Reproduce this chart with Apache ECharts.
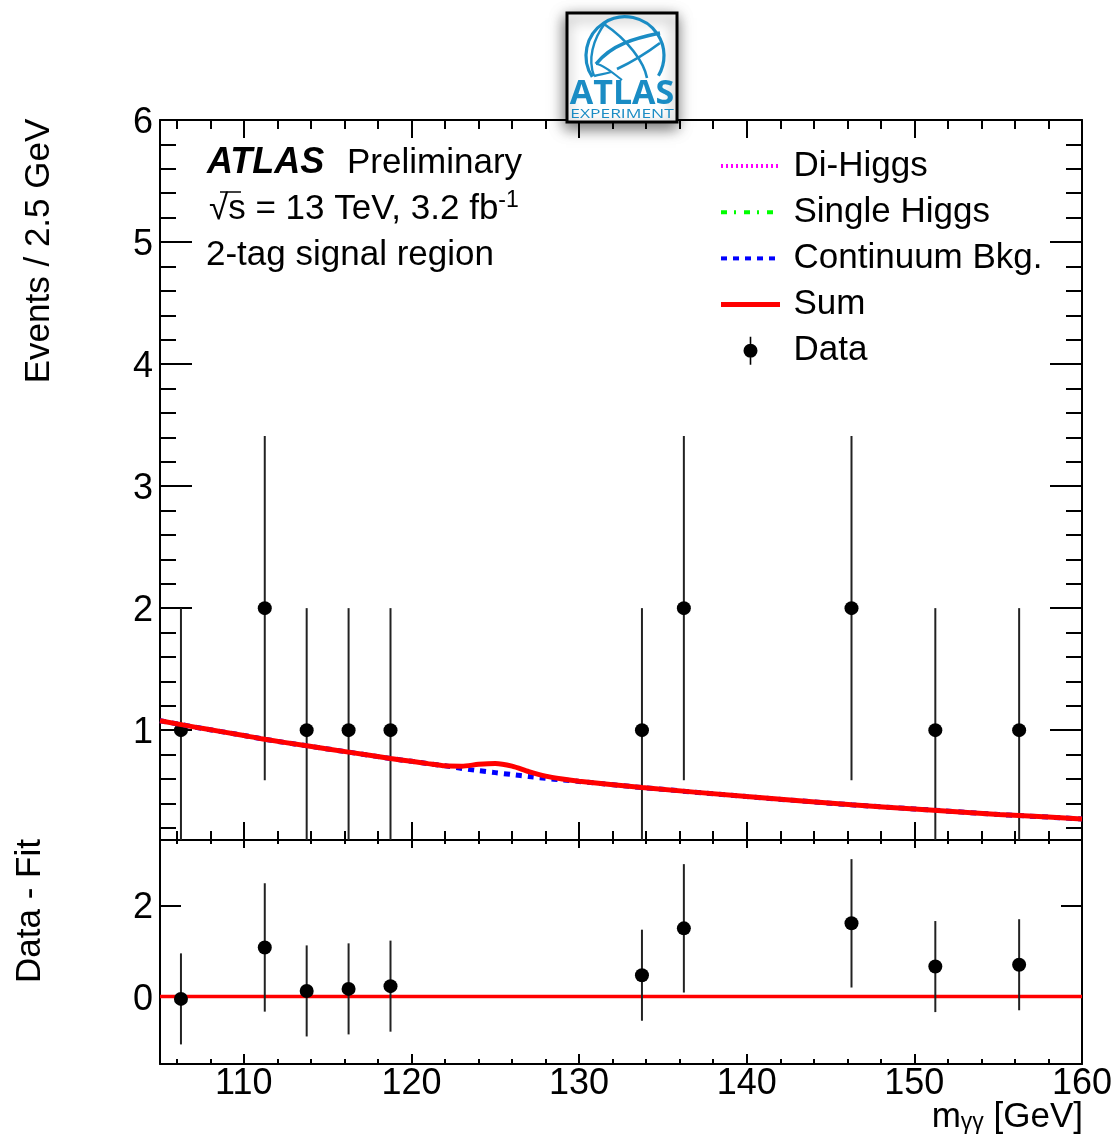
<!DOCTYPE html>
<html><head><meta charset="utf-8">
<style>html,body{margin:0;padding:0;background:#fff}#c{width:1113px;height:1137px}</style>
<script src="https://cdn.jsdelivr.net/npm/echarts@6/dist/echarts.min.js"></script>
</head><body><div id="c"></div>
<script>
// ---- data ----
const massBins = [106.25,111.25,113.75,116.25,118.75,133.75,136.25,146.25,151.25,156.25];
const dataCounts = [1,2,1,1,1,1,2,2,1,1];
const dataErrors = [1,1.41,1,1,1,1,1.41,1.41,1,1];
const dataMinusFit = [-0.05,1.08,0.125,0.17,0.23,0.47,1.5,1.61,0.66,0.7];
const curveMass = [105,107.5,110,111.25,113.75,116.25,118.75,120,121,122,123,124,125,126,127,128,129,130,133.75,140,146.25,150,155,156.25,160];
const sumCurve = [1.077,1.015,0.957,0.925,0.872,0.82,0.768,0.745,0.726,0.708,0.705,0.72,0.727,0.705,0.66,0.623,0.6,0.582,0.53,0.456,0.388,0.355,0.309,0.3,0.273];
const continuumCurve = [1.077,1.015,0.957,0.925,0.872,0.82,0.768,0.745,0.726,0.708,0.686,0.668,0.652,0.636,0.62,0.605,0.592,0.58,0.53,0.456,0.388,0.355,0.309,0.3,0.273];
const diHiggsCurve = [];    // below the visible range
const singleHiggsCurve = []; // below the visible range
const fitLine = [[105,0],[160,0]];
const xMajorTicks = [110,120,130,140,150];
const xLabelTicks = [110,120,130,140,150,160];
const xMinorTicks = [106,108,112,114,116,118,122,124,126,128,132,134,136,138,142,144,146,148,152,154,156,158];
const yMajorTicks = [1,2,3,4,5,6];
const yMinorTicks = [0.2,0.4,0.6,0.8,1.2,1.4,1.6,1.8,2.2,2.4,2.6,2.8,3.2,3.4,3.6,3.8,4.2,4.4,4.6,4.8,5.2,5.4,5.6,5.8];
const ratioTicks = [0,2];

const FONT = '"Liberation Sans", Arial, sans-serif';
const BLUE = '#1a8cc4';
const line = {color:'#000',width:2};

function axis(kind, grid, pos, range, ticks, len, opt){
  opt = opt||{};
  const label = {show:true, customValues:opt.labels, margin:opt.margin, fontFamily:FONT, fontSize:36, color:'#000', hideOverlap:false, showMinLabel:true, showMaxLabel:true};
  if (opt.shiftDown) {
    label.formatter = v => '{n|' + v + '}';
    label.rich = {n:{fontFamily:FONT, fontSize:36, color:'#000', padding:[opt.shiftDown,0,0,0]}};
  }
  return {
    type:'value', gridIndex:grid, position:pos, min:range[0], max:range[1], scale:true,
    splitLine:{show:false},
    axisLine:{show:!!opt.line, onZero:false, lineStyle:line},
    axisTick:{show:true, inside:true, length:len, customValues:ticks, lineStyle:{color:'#000',width:2}},
    axisLabel: opt.labels ? label : {show:false}
  };
}
const XR=[105,160], YR=[0.1,6], RR=[-1.48,3.44];
const xAxes=[
  axis('x',0,'bottom',XR,xMajorTicks,18,{line:true}),
  axis('x',0,'bottom',XR,xMinorTicks,9),
  axis('x',0,'top',XR,xMajorTicks,18,{line:true}),
  axis('x',0,'top',XR,xMinorTicks,9),
  axis('x',1,'top',XR,xMajorTicks,8,{line:true}),
  axis('x',1,'top',XR,xMinorTicks,4),
  axis('x',1,'bottom',XR,xMajorTicks,10,{line:true,labels:xLabelTicks,margin:2}),
  axis('x',1,'bottom',XR,xMinorTicks,5)
];
const yAxes=[
  axis('y',0,'left',YR,yMajorTicks,32,{line:true,labels:yMajorTicks,margin:7,shiftDown:6}),
  axis('y',0,'left',YR,yMinorTicks,16),
  axis('y',0,'right',YR,yMajorTicks,32,{line:true}),
  axis('y',0,'right',YR,yMinorTicks,16),
  axis('y',1,'left',RR,ratioTicks,21,{line:true,labels:ratioTicks,margin:7,shiftDown:6}),
  axis('y',1,'right',RR,ratioTicks,21,{line:true})
];

function errorBars(params, api){
  const x=api.value(0), y=api.value(1), e=api.value(2);
  const hi=api.coord([x,y+e]), lo=api.coord([x,y-e]), c=api.coord([x,y]);
  return {type:'group',children:[
    {type:'line',shape:{x1:hi[0],y1:hi[1],x2:lo[0],y2:lo[1]},style:{stroke:'#222',lineWidth:2}},
    {type:'circle',shape:{cx:c[0],cy:c[1],r:7},style:{fill:'#000'}}
  ]};
}
const zip=(a,b)=>a.map((v,i)=>[v,b[i]]);
function curve(name,data,color,type,width,z){
  return {name,type:'line',xAxisIndex:0,yAxisIndex:0,data,symbol:'none',smooth:0.25,clip:true,z,
    lineStyle:{color,width,type,cap:'butt'},itemStyle:{color},emphasis:{disabled:true},silent:true};
}
const deg=d=>d*Math.PI/180;
const logoStroke=(w)=>({stroke:BLUE,lineWidth:w,fill:null});
function bez(x1,y1,cx1,cy1,cx2,cy2,x2,y2,w){
  return {type:'bezierCurve',z:102,silent:true,shape:{x1,y1,cpx1:cx1,cpy1:cy1,cpx2:cx2,cpy2:cy2,x2,y2},style:logoStroke(w)};
}
const txt=(x,y,text,extra)=>({type:'text',x,y,silent:true,z:50,style:Object.assign({text,fontFamily:FONT,fontSize:35,fill:'#000',verticalAlign:'middle'},extra||{})});

const graphics=[
  // annotation block
  txt(207,163,'ATLAS',{fontWeight:'bold',fontStyle:'italic',fontSize:36}),
  txt(347,163,'Preliminary'),
  {type:'text',x:209,y:209,silent:true,z:50,style:{text:'{r|√}s = 13 TeV, 3.2 fb{s|-1}',fontFamily:FONT,fontSize:35,fill:'#000',verticalAlign:'middle',
     rich:{r:{fontFamily:FONT,fontSize:35,fill:'#000'},s:{fontFamily:FONT,fontSize:23,fill:'#000',verticalAlign:'top',lineHeight:40}}}},
  {type:'line',z:50,silent:true,shape:{x1:220,y1:192,x2:241,y2:192},style:{stroke:'#000',lineWidth:1.5}},
  txt(206,255,'2-tag signal region'),
  // axis titles
  {type:'text',x:39,y:251,rotation:Math.PI/2,silent:true,z:50,style:{text:'Events / 2.5 GeV',fontFamily:FONT,fontSize:35,fill:'#000',align:'center',verticalAlign:'middle'}},
  {type:'text',x:30,y:911,rotation:Math.PI/2,silent:true,z:50,style:{text:'Data - Fit',fontFamily:FONT,fontSize:35,fill:'#000',align:'center',verticalAlign:'middle'}},
  {type:'text',x:1083,y:1117,silent:true,z:50,style:{text:'m{g|γγ} [GeV]',fontFamily:FONT,fontSize:35,fill:'#000',align:'right',verticalAlign:'middle',
     rich:{g:{fontFamily:FONT,fontSize:23,fill:'#000',verticalAlign:'bottom',lineHeight:33}}}},
  // logo
  {type:'rect',z:100,silent:true,shape:{x:567,y:13,width:110,height:109},style:{fill:'#fff',stroke:'#000',lineWidth:3,shadowBlur:14,shadowColor:'rgba(0,0,0,0.55)',shadowOffsetX:-1,shadowOffsetY:5}},
  {type:'arc',z:102,silent:true,shape:{cx:625,cy:55.7,r:39,startAngle:deg(147),endAngle:deg(391),clockwise:true},style:logoStroke(3.2)},
  bez(596,64,612,44,636,38,660,33,3.6),
  bez(617,69,632,62,648,52,660,43,2.8),
  bez(604,24,628,40,644,62,647,78,2.6),
  bez(606,22,592,40,588,60,594,76,2.4),
  bez(594,76,600,74,606,74,611,72,2.4),
  bez(596,64,602,64,612,72,622,80,2.0),
  {type:'text',x:622,y:94,z:103,silent:true,style:{text:'ATLAS',fontFamily:'"Open Sans", sans-serif',fontWeight:'bold',fontSize:34,fill:BLUE,align:'center',verticalAlign:'middle'}},
  {type:'text',x:622,y:114.5,z:103,silent:true,scaleX:1.45,style:{text:'EXPERIMENT',fontFamily:'"Open Sans", sans-serif',fontSize:12,fill:BLUE,align:'center',verticalAlign:'middle'}}
];

const noMarker={color:'transparent'};
const chart=echarts.init(document.getElementById('c'),null,{renderer:'canvas'});
chart.setOption({
  animation:false, backgroundColor:'#fff',
  grid:[{left:160,width:922,top:120,height:720,outerBoundsMode:'none'},{left:160,width:922,top:840,height:224,outerBoundsMode:'none'}],
  xAxis:xAxes, yAxis:yAxes,
  legend:{
    left:718.5, top:148.5, padding:0, orient:'vertical', itemWidth:59, itemHeight:28, itemGap:11.2,
    selectedMode:false,
    lineStyle:{width:4},
    textStyle:{fontFamily:FONT,fontSize:35,color:'#000',padding:[0,0,0,8.5]},
    data:[{name:'Di-Higgs',itemStyle:noMarker},{name:'Single Higgs',itemStyle:noMarker},{name:'Continuum Bkg.',itemStyle:noMarker},
      {name:'Sum',itemStyle:noMarker,lineStyle:{width:5}},
      {name:'Data',icon:'path://M14 14A7 7 0 1 1 0 14A7 7 0 1 1 14 14Z M6.2 0H7.8V28H6.2Z',itemStyle:{color:'#000'}}]
  },
  series:[
    {name:'Data',type:'custom',xAxisIndex:0,yAxisIndex:0,clip:true,z:2,silent:true,itemStyle:{color:'#000'},renderItem:errorBars,
     encode:{x:0,y:1},data:massBins.map((m,i)=>[m,dataCounts[i],dataErrors[i]])},
    curve('Di-Higgs',zip(curveMass.slice(0,diHiggsCurve.length),diHiggsCurve),'#ff00ff',[2,3],4,3),
    curve('Single Higgs',zip(curveMass.slice(0,singleHiggsCurve.length),singleHiggsCurve),'#00ff00',[6,7,2,8],4,3),
    curve('Continuum Bkg.',zip(curveMass,continuumCurve),'#0000ff',[6,6],5,3),
    curve('Sum',zip(curveMass,sumCurve),'#ff0000','solid',5,4),
    {name:'Fit',type:'line',xAxisIndex:6,yAxisIndex:4,data:fitLine,symbol:'none',z:3,silent:true,lineStyle:{color:'#ff0000',width:3.5}},
    {name:'Data - Fit',type:'custom',xAxisIndex:6,yAxisIndex:4,clip:true,z:5,silent:true,renderItem:errorBars,
     encode:{x:0,y:1},data:massBins.map((m,i)=>[m,dataMinusFit[i],dataErrors[i]])}
  ],
  graphic:{elements:graphics}
});
</script></body></html>
